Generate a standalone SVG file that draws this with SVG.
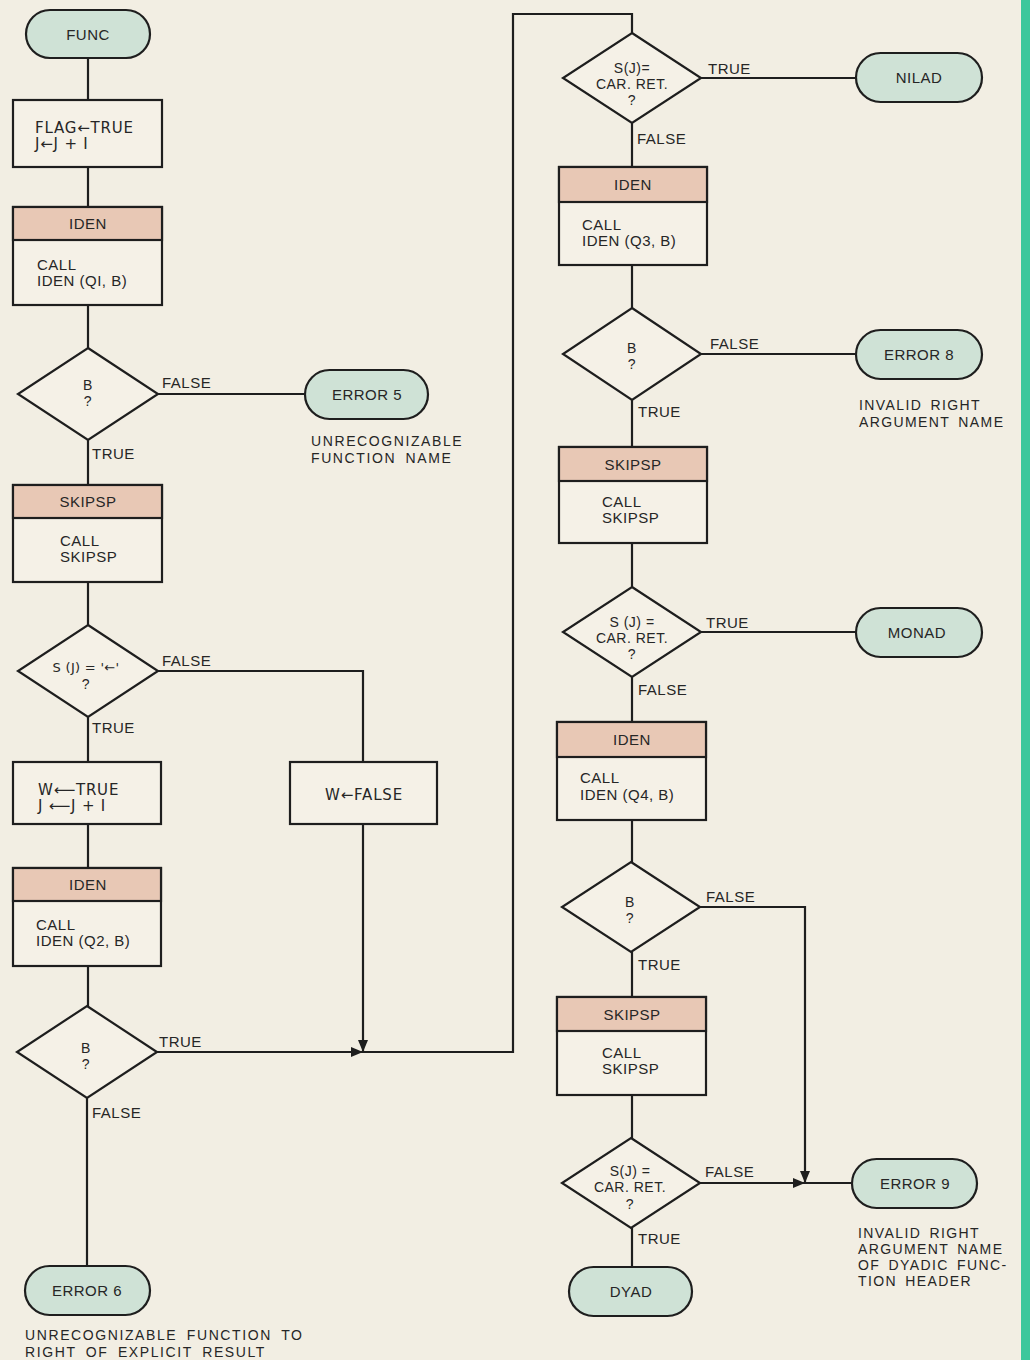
<svg xmlns="http://www.w3.org/2000/svg" width="1030" height="1360" viewBox="0 0 1030 1360">
<defs>
<marker id="ah" viewBox="0 0 12 10" refX="12" refY="5" markerWidth="12" markerHeight="10" markerUnits="userSpaceOnUse" orient="auto"><path d="M0,0 L12,5 L0,10 z" fill="#1e1e1e"/></marker>
</defs>
<style>
text{font-family:"Liberation Sans","DejaVu Sans",sans-serif;fill:#262626;font-size:15px;letter-spacing:0.5px}
.c{text-anchor:middle}
.aw{font-family:"DejaVu Sans",sans-serif;font-size:15px;letter-spacing:0.8px}
.term{fill:#cfe2d6;stroke:#1e1e1e;stroke-width:2.2}
.box{fill:#f5f1e7;stroke:#1e1e1e;stroke-width:2.2}
.hdr{fill:#e8c8b5;stroke:#1e1e1e;stroke-width:2.2}
.dia{fill:#f5f1e7;stroke:#1e1e1e;stroke-width:2.2}
.ln{fill:none;stroke:#1e1e1e;stroke-width:2.2}
.lbl{font-size:15px}
.dt{font-size:14px}
.note{font-size:14px;letter-spacing:1.6px;word-spacing:4px}
.nr{font-size:14px;letter-spacing:1.4px;word-spacing:3px}
</style>
<rect x="0" y="0" width="1030" height="1360" fill="#f2eee3"/>
<rect x="1021" y="0" width="9" height="1360" fill="#3cc79c"/>

<g id="connectors">
<path class="ln" d="M88,58 V100"/>
<path class="ln" d="M88,167 V207"/>
<path class="ln" d="M88,305 V348"/>
<path class="ln" d="M158,394 H305"/>
<path class="ln" d="M88,440 V485"/>
<path class="ln" d="M88,582 V625"/>
<path class="ln" d="M158,671 H363 V762"/>
<path class="ln" d="M88,717 V762"/>
<path class="ln" d="M88,824 V868"/>
<path class="ln" d="M88,966 V1006"/>
<path class="ln" d="M363,824 V1052" marker-end="url(#ah)"/>
<path class="ln" d="M157,1052 H363" marker-end="url(#ah)"/>
<path class="ln" d="M363,1052 H513 V14 H632 V33"/>
<path class="ln" d="M87,1098 V1266"/>
<path class="ln" d="M701,78 H856"/>
<path class="ln" d="M632,123 V167"/>
<path class="ln" d="M632,265 V308"/>
<path class="ln" d="M701,354 H856"/>
<path class="ln" d="M632,400 V447"/>
<path class="ln" d="M632,543 V587"/>
<path class="ln" d="M701,632 H856"/>
<path class="ln" d="M632,677 V722"/>
<path class="ln" d="M632,820 V862"/>
<path class="ln" d="M700,907 H805 V1183" marker-end="url(#ah)"/>
<path class="ln" d="M632,952 V997"/>
<path class="ln" d="M632,1095 V1138"/>
<path class="ln" d="M700,1183 H805" marker-end="url(#ah)"/>
<path class="ln" d="M805,1183 H852"/>
<path class="ln" d="M632,1228 V1267"/>
<text class="lbl" x="162" y="388">FALSE</text>
<text class="lbl" x="92" y="459">TRUE</text>
<text class="lbl" x="162" y="666">FALSE</text>
<text class="lbl" x="92" y="733">TRUE</text>
<text class="lbl" x="159" y="1047">TRUE</text>
<text class="lbl" x="92" y="1118">FALSE</text>
<text class="lbl" x="708" y="74">TRUE</text>
<text class="lbl" x="637" y="144">FALSE</text>
<text class="lbl" x="710" y="349">FALSE</text>
<text class="lbl" x="638" y="417">TRUE</text>
<text class="lbl" x="706" y="628">TRUE</text>
<text class="lbl" x="638" y="695">FALSE</text>
<text class="lbl" x="706" y="902">FALSE</text>
<text class="lbl" x="638" y="970">TRUE</text>
<text class="lbl" x="705" y="1177">FALSE</text>
<text class="lbl" x="638" y="1244">TRUE</text>
</g>

<g id="func"><rect class="term" x="26" y="10" width="124" height="48" rx="24"/><text class="c" x="88" y="40">FUNC</text></g>
<g id="flag"><rect class="box" x="13" y="100" width="149" height="67"/><text class="aw" x="35" y="133">FLAG←TRUE</text><text class="aw" x="35" y="149">J←J + I</text></g>
<g id="iden1"><rect class="box" x="13" y="207" width="149" height="98"/><rect class="hdr" x="13" y="207" width="149" height="33"/><text class="c" x="88" y="229">IDEN</text><text x="37" y="270">CALL</text><text x="37" y="286">IDEN (QI, B)</text></g>
<g id="dec1"><polygon class="dia" points="88,348 158,394 88,440 18,394"/><text class="c dt" x="88" y="390">B</text><text class="c dt" x="88" y="406">?</text></g>
<g id="err5"><rect class="term" x="305" y="370" width="123" height="49" rx="24.5"/><text class="c" x="367" y="400">ERROR 5</text></g>
<g id="note5"><text class="note" x="311" y="446">UNRECOGNIZABLE</text><text class="note" x="311" y="463">FUNCTION NAME</text></g>
<g id="skipsp1"><rect class="box" x="13" y="485" width="149" height="97"/><rect class="hdr" x="13" y="485" width="149" height="33"/><text class="c" x="88" y="507">SKIPSP</text><text x="60" y="546">CALL</text><text x="60" y="562">SKIPSP</text></g>
<g id="dec2"><polygon class="dia" points="88,625 158,671 88,717 18,671"/><text class="c aw" x="86" y="672" style="font-size:13px;letter-spacing:0.3px">S (J) = '←'</text><text class="c dt" x="86" y="689">?</text></g>
<g id="wtrue"><rect class="box" x="13" y="762" width="148" height="62"/><text class="aw" x="38" y="795">W⟵TRUE</text><text class="aw" x="38" y="811">J ⟵J + I</text></g>
<g id="wfalse"><rect class="box" x="290" y="762" width="147" height="62"/><text class="c aw" x="364" y="800">W←FALSE</text></g>
<g id="iden2"><rect class="box" x="13" y="868" width="148" height="98"/><rect class="hdr" x="13" y="868" width="148" height="33"/><text class="c" x="88" y="890">IDEN</text><text x="36" y="930">CALL</text><text x="36" y="946">IDEN (Q2, B)</text></g>
<g id="dec3"><polygon class="dia" points="87,1006 157,1052 87,1098 17,1052"/><text class="c dt" x="86" y="1053">B</text><text class="c dt" x="86" y="1069">?</text></g>
<g id="err6"><rect class="term" x="25" y="1266" width="125" height="49" rx="24.5"/><text class="c" x="87" y="1296">ERROR 6</text></g>
<g id="note6"><text class="note" x="25" y="1340">UNRECOGNIZABLE FUNCTION TO</text><text class="note" x="25" y="1357">RIGHT OF EXPLICIT RESULT</text></g>

<g id="dec4"><polygon class="dia" points="632,33 701,78 632,123 563,78"/><text class="c dt" x="632" y="73">S(J)=</text><text class="c dt" x="632" y="89">CAR. RET.</text><text class="c dt" x="632" y="105">?</text></g>
<g id="nilad"><rect class="term" x="856" y="53" width="126" height="49" rx="24.5"/><text class="c" x="919" y="83">NILAD</text></g>
<g id="iden3"><rect class="box" x="559" y="167" width="148" height="98"/><rect class="hdr" x="559" y="167" width="148" height="35"/><text class="c" x="633" y="190">IDEN</text><text x="582" y="230">CALL</text><text x="582" y="246">IDEN (Q3, B)</text></g>
<g id="dec5"><polygon class="dia" points="632,308 701,354 632,400 563,354"/><text class="c dt" x="632" y="353">B</text><text class="c dt" x="632" y="369">?</text></g>
<g id="err8"><rect class="term" x="856" y="330" width="126" height="49" rx="24.5"/><text class="c" x="919" y="360">ERROR 8</text></g>
<g id="note8"><text class="nr" x="859" y="410">INVALID RIGHT</text><text class="nr" x="859" y="427">ARGUMENT NAME</text></g>
<g id="skipsp2"><rect class="box" x="559" y="447" width="148" height="96"/><rect class="hdr" x="559" y="447" width="148" height="34"/><text class="c" x="633" y="470">SKIPSP</text><text x="602" y="507">CALL</text><text x="602" y="523">SKIPSP</text></g>
<g id="dec6"><polygon class="dia" points="632,587 701,632 632,677 563,632"/><text class="c dt" x="632" y="627">S (J) =</text><text class="c dt" x="632" y="643">CAR. RET.</text><text class="c dt" x="632" y="659">?</text></g>
<g id="monad"><rect class="term" x="856" y="608" width="126" height="49" rx="24.5"/><text class="c" x="917" y="638">MONAD</text></g>
<g id="iden4"><rect class="box" x="557" y="722" width="149" height="98"/><rect class="hdr" x="557" y="722" width="149" height="35"/><text class="c" x="632" y="745">IDEN</text><text x="580" y="783">CALL</text><text x="580" y="800">IDEN (Q4, B)</text></g>
<g id="dec7"><polygon class="dia" points="631,862 700,907 631,952 562,907"/><text class="c dt" x="630" y="907">B</text><text class="c dt" x="630" y="923">?</text></g>
<g id="skipsp3"><rect class="box" x="557" y="997" width="149" height="98"/><rect class="hdr" x="557" y="997" width="149" height="34"/><text class="c" x="632" y="1020">SKIPSP</text><text x="602" y="1058">CALL</text><text x="602" y="1074">SKIPSP</text></g>
<g id="dec8"><polygon class="dia" points="631,1138 700,1183 631,1228 562,1183"/><text class="c dt" x="630" y="1176">S(J) =</text><text class="c dt" x="630" y="1192">CAR. RET.</text><text class="c dt" x="630" y="1209">?</text></g>
<g id="err9"><rect class="term" x="852" y="1159" width="125" height="49" rx="24.5"/><text class="c" x="915" y="1189">ERROR 9</text></g>
<g id="note9"><text class="nr" x="858" y="1238">INVALID RIGHT</text><text class="nr" x="858" y="1254">ARGUMENT NAME</text><text class="nr" x="858" y="1270">OF DYADIC FUNC-</text><text class="nr" x="858" y="1286">TION HEADER</text></g>
<g id="dyad"><rect class="term" x="569" y="1267" width="123" height="49" rx="24.5"/><text class="c" x="631" y="1297">DYAD</text></g>
</svg>
